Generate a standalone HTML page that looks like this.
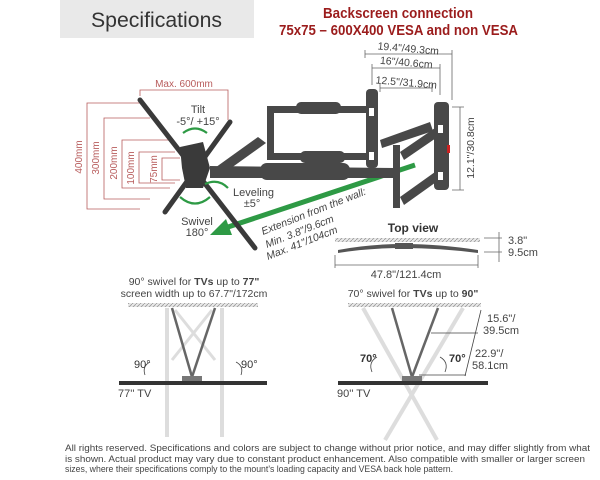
<!DOCTYPE html>
<html><head><meta charset="utf-8"><style>
html,body{margin:0;padding:0;background:#fff;}
svg{display:block;font-family:"Liberation Sans",sans-serif;}
</style></head><body>
<svg width="600" height="480" viewBox="0 0 600 480" xmlns="http://www.w3.org/2000/svg">
<defs>
<pattern id="hat" width="4" height="4" patternUnits="userSpaceOnUse"><rect width="4" height="4" fill="#e8e8e8"/><path d="M0,4 L4,0" stroke="#999" stroke-width="0.8"/></pattern>
</defs>
<rect x="60" y="0" width="194" height="38" fill="#e9e9e9"/>
<text x="91" y="27" font-size="21" fill="#333" textLength="131" lengthAdjust="spacingAndGlyphs">Specifications</text>
<text x="398" y="18" font-size="15" fill="#9b1c1c" text-anchor="middle" font-weight="bold" textLength="150" lengthAdjust="spacingAndGlyphs">Backscreen connection</text>
<text x="279" y="35" font-size="15" fill="#9b1c1c" font-weight="bold" textLength="239" lengthAdjust="spacingAndGlyphs">75x75 – 600X400 VESA and non VESA</text>

<g stroke="#b85c5c" stroke-width="0.8" fill="none">
<path d="M140,103 H87 V209 H140"/>
<path d="M150,118 H104 V199 H150"/>
<path d="M170,140 H122 V188 H170"/>
<path d="M175,152 H139 V183 H175"/>
<path d="M180,158 H162 V180 H180"/>
<path d="M140,96 V90 H228 V120"/>
</g>
<g fill="#b85c5c" font-size="10">
<text transform="translate(82,157) rotate(-90)" text-anchor="middle">400mm</text>
<text transform="translate(99,158) rotate(-90)" text-anchor="middle">300mm</text>
<text transform="translate(117,163) rotate(-90)" text-anchor="middle">200mm</text>
<text transform="translate(134,168) rotate(-90)" text-anchor="middle">100mm</text>
<text transform="translate(157,169) rotate(-90)" text-anchor="middle">75mm</text>
<text x="184" y="87" text-anchor="middle">Max. 600mm</text>
</g>

<path d="M415,165 L222,229" stroke="#2e9a45" stroke-width="5"/>
<path d="M210,235 L226,219 L232,235 Z" fill="#2e9a45"/>

<g fill="#484848">
<rect x="267" y="106" width="100" height="7"/>
<rect x="267" y="153" width="100" height="7"/>
<rect x="267" y="106" width="7" height="54"/>
<rect x="296" y="102" width="45" height="12" rx="5"/>
<rect x="300" y="151" width="45" height="12" rx="5"/>
<rect x="366" y="89" width="12" height="79" rx="4"/>
<rect x="434" y="102" width="15" height="88" rx="4"/>
<path d="M212,170 L258,137 L266,143 L220,176 Z"/>
<path d="M210,166 L395,168 L395,178 L210,178 Z"/>
<rect x="260" y="163" width="90" height="17" rx="7"/>
<rect x="393" y="145" width="7" height="63"/>
<path d="M380,140 L430,122 L433,131 L382,148 Z"/>
<path d="M400,152 L435,128 L439,136 L404,160 Z"/>
<path d="M400,197 L435,172 L439,180 L404,205 Z"/>
<rect x="447" y="145" width="3" height="8" fill="#c22"/>
</g>
<g fill="#fff"><rect x="369" y="108" width="5" height="8"/><rect x="369" y="152" width="5" height="8"/><rect x="438" y="125" width="5" height="8"/><rect x="438" y="172" width="5" height="8"/></g>

<g stroke="#3a3a3a" stroke-linecap="round">
<line x1="140" y1="100" x2="255" y2="248" stroke-width="5"/>
<line x1="230" y1="122" x2="165" y2="212" stroke-width="5"/>
</g>
<path d="M180,147 L203,142 L210,168 L203,188 L186,188 L182,168 Z" fill="#3a3a3a"/>

<g stroke="#2e9a45" stroke-width="2.2" fill="none">
<path d="M183,133 Q195,124 207,133"/>
<path d="M180,197 Q195,210 210,197"/>
<path d="M205,184 Q218,178 228,188"/>
</g>

<g fill="#444" font-size="11">
<text x="198" y="113" text-anchor="middle">Tilt</text>
<text x="198" y="125" text-anchor="middle">-5°/ +15°</text>
<text x="233" y="196">Leveling</text>
<text x="252" y="207" text-anchor="middle">±5°</text>
<text x="197" y="225" text-anchor="middle">Swivel</text>
<text x="197" y="236" text-anchor="middle">180°</text>
</g>
<g fill="#444" font-size="10.5" font-style="italic">
<text transform="translate(263,235) rotate(-21.5)">Extension from the wall:</text>
<text transform="translate(267,248) rotate(-21.5)">Min. 3.8"/9.6cm</text>
<text transform="translate(268,260) rotate(-21.5)">Max. 41"/104cm</text>
</g>

<g stroke="#666" stroke-width="0.8" fill="none">
<path d="M365,50 V58 M452,50 V100 M365,54 H452"/>
<path d="M372,64 V85 M440,64 V95 M372,68 H440"/>
<path d="M380,84 V92 M432,84 V92 M380,88 H432"/>
<path d="M452,107 H464 M452,190 H464 M460,107 V190"/>
</g>
<g fill="#444" font-size="10.5">
<text transform="translate(408,52) rotate(5)" text-anchor="middle">19.4"/49.3cm</text>
<text transform="translate(406,66) rotate(5)" text-anchor="middle">16"/40.6cm</text>
<text transform="translate(406,86) rotate(5)" text-anchor="middle">12.5"/31.9cm</text>
<text transform="translate(474,148) rotate(-90)" text-anchor="middle">12.1"/30.8cm</text>
</g>

<text x="413" y="232" font-size="12" font-weight="bold" fill="#333" text-anchor="middle">Top view</text>
<rect x="335" y="238" width="145" height="4" fill="url(#hat)"/>
<path d="M338,250 Q400,238 478,250 L478,253 Q400,243 338,253 Z" fill="#555"/>
<rect x="395" y="243" width="18" height="6" fill="#555"/>
<g stroke="#666" stroke-width="0.8" fill="none">
<path d="M335,255 V268 M478,255 V268 M335,265 H478"/>
<path d="M484,238 H502 M484,252 H502 M499,232 V262"/>
</g>
<text x="406" y="278" font-size="11" fill="#444" text-anchor="middle">47.8"/121.4cm</text>
<text x="508" y="244" font-size="11" fill="#444">3.8"</text>
<text x="508" y="256" font-size="11" fill="#444">9.5cm</text>

<text x="194" y="285" font-size="10.5" fill="#444" text-anchor="middle">90° swivel for <tspan font-weight="bold">TVs</tspan> up to <tspan font-weight="bold">77"</tspan></text>
<text x="194" y="297" font-size="10.5" fill="#444" text-anchor="middle">screen width up to 67.7"/172cm</text>
<rect x="128" y="303" width="130" height="4" fill="url(#hat)"/>
<g stroke="#ddd" stroke-width="4"><line x1="167" y1="308" x2="167" y2="437"/><line x1="222" y1="308" x2="222" y2="437"/><line x1="175" y1="310" x2="215" y2="360" stroke-width="3"/><line x1="212" y1="310" x2="172" y2="360" stroke-width="3"/></g>
<g stroke="#666" stroke-width="2.5"><line x1="172" y1="308" x2="192" y2="377"/><line x1="215" y1="308" x2="192" y2="377"/></g>
<rect x="182" y="376" width="20" height="6" fill="#777"/>
<rect x="119" y="381" width="148" height="4" fill="#333"/>
<text x="118" y="397" font-size="11" fill="#444">77'' TV</text>
<text x="134" y="368" font-size="11" fill="#333">90°</text>
<text x="241" y="368" font-size="11" fill="#333">90°</text>
<g stroke="#444" stroke-width="0.8" fill="none"><path d="M150,362 Q142,366 145,375"/><path d="M236,362 Q244,366 241,375"/></g>

<text x="413" y="297" font-size="10.5" fill="#444" text-anchor="middle">70° swivel for <tspan font-weight="bold">TVs</tspan> up to <tspan font-weight="bold">90"</tspan></text>
<rect x="348" y="303" width="133" height="4" fill="url(#hat)"/>
<g stroke="#ddd" stroke-width="4"><line x1="363" y1="308" x2="437" y2="440"/><line x1="463" y1="308" x2="385" y2="440"/></g>
<g stroke="#666" stroke-width="2.5"><line x1="392" y1="308" x2="412" y2="377"/><line x1="438" y1="308" x2="412" y2="377"/></g>
<rect x="402" y="376" width="20" height="6" fill="#777"/>
<rect x="338" y="381" width="150" height="4" fill="#333"/>
<text x="337" y="397" font-size="11" fill="#444">90'' TV</text>
<text x="360" y="362" font-size="11" fill="#333" font-weight="bold">70°</text>
<text x="449" y="362" font-size="11" fill="#333" font-weight="bold">70°</text>
<g stroke="#444" stroke-width="0.8" fill="none"><path d="M377,357 Q368,362 372,372"/><path d="M440,357 Q449,362 445,372"/>
<path d="M481,310 L465,376 M431,333 H478 M419,375 H466"/></g>
<g fill="#444" font-size="11">
<text x="487" y="322">15.6"/</text><text x="483" y="334">39.5cm</text>
<text x="475" y="357">22.9"/</text><text x="472" y="369">58.1cm</text>
</g>

<g fill="#444" font-size="9">
<text x="65" y="451" textLength="525" lengthAdjust="spacingAndGlyphs">All rights reserved. Specifications and colors are subject to change without prior notice, and may differ slightly from what</text>
<text x="65" y="462" textLength="520" lengthAdjust="spacingAndGlyphs">is shown. Actual product may vary due to constant product enhancement. Also compatible with smaller or larger screen</text>
<text x="65" y="472" textLength="388" lengthAdjust="spacingAndGlyphs">sizes, where their specifications comply to the mount's loading capacity and VESA back hole pattern.</text>
</g>
</svg>
</body></html>
